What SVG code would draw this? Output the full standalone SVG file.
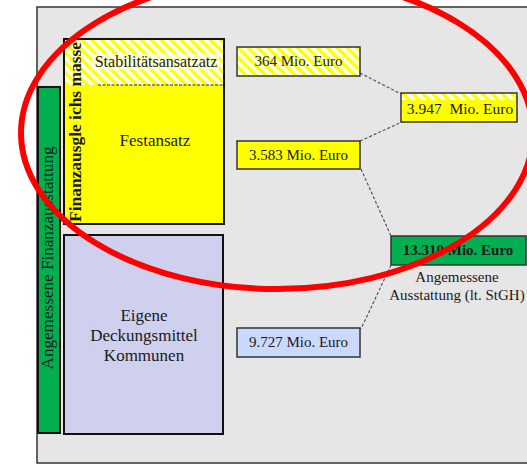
<svg xmlns="http://www.w3.org/2000/svg" width="527" height="464" viewBox="0 0 527 464">
<defs>
<pattern id="hatch" patternUnits="userSpaceOnUse" width="7" height="7" patternTransform="rotate(-45)">
<rect width="7" height="7" fill="#FFFFFF"/>
<rect width="3.5" height="7" fill="#FFFF00"/>
</pattern>
<style>
.t{font-family:"Liberation Serif","Times New Roman",serif;fill:#1a1a1a;}
.box{stroke:#333;stroke-width:1.5;}
.big{stroke:#111;stroke-width:2;}
.conn{stroke:#555;stroke-width:1.2;stroke-dasharray:3,2;fill:none;}
</style>
</defs>
<rect x="37" y="7" width="500" height="456" fill="#E6E6E6" stroke="#333" stroke-width="1.5"/>

<g id="bar-angemessene">
<rect x="38" y="87" width="22" height="346" fill="#00B050" class="big"/>
<text class="t" font-size="16" text-anchor="middle" transform="translate(53,258) rotate(-90)" textLength="223" lengthAdjust="spacingAndGlyphs">Angemessene Finanzausstattung</text>
</g>

<g id="finanzausgleichsmasse">
<rect x="64" y="39" width="160" height="185" fill="#FFFF00" class="big"/>
<rect x="65" y="40" width="158" height="45" fill="url(#hatch)"/>
<rect x="92" y="54" width="127" height="16" fill="#FFFFFF" opacity="0.6"/>
<line x1="98" y1="85" x2="223" y2="85" stroke="#222" stroke-width="1" stroke-dasharray="3,1.5"/>
<text class="t" font-size="16" font-weight="bold" text-anchor="middle" transform="translate(81,132) rotate(-90)" textLength="180" lengthAdjust="spacingAndGlyphs">Finanzausgle ichs masse</text>
<text class="t" font-size="16" x="156" y="67" text-anchor="middle">Stabilitätsansatzatz</text>
<text class="t" font-size="17" x="155" y="146" text-anchor="middle">Festansatz</text>
</g>

<g id="eigene">
<rect x="64" y="235" width="159" height="199" fill="#CFCFEE" class="big"/>
<text class="t" font-size="17" text-anchor="middle"><tspan x="144" y="321">Eigene</tspan><tspan x="144" y="341">Deckungsmittel</tspan><tspan x="144" y="361">Kommunen</tspan></text>
</g>

<g id="connectors">
<line class="conn" x1="360" y1="73" x2="401" y2="94"/>
<line class="conn" x1="360" y1="141" x2="402" y2="122"/>
<line class="conn" x1="361" y1="169" x2="391" y2="236"/>
<line class="conn" x1="391" y1="265" x2="361" y2="329"/>
</g>

<g id="n364">
<rect x="237" y="47" width="123" height="29" fill="url(#hatch)" class="box"/>
<text class="t" font-size="15" x="298.5" y="66" text-anchor="middle">364 Mio. Euro</text>
</g>

<g id="n3583">
<rect x="237" y="141" width="123" height="28" fill="#FFFF00" class="box"/>
<text class="t" font-size="15" x="298.5" y="160" text-anchor="middle">3.583 Mio. Euro</text>
</g>

<g id="n3947">
<rect x="401" y="93" width="116" height="29" fill="url(#hatch)" class="box"/>
<rect x="402" y="100" width="114" height="21" fill="#FFFF00"/>
<text class="t" font-size="15.5" x="460" y="114" text-anchor="middle" xml:space="preserve">3.947  Mio. Euro</text>
</g>

<g id="n13310">
<rect x="391" y="236" width="135" height="29" fill="#00B050" class="box"/>
<text class="t" font-size="15" font-weight="bold" x="458" y="255" text-anchor="middle">13.310 Mio. Euro</text>
<text class="t" font-size="15" text-anchor="middle"><tspan x="457" y="282">Angemessene</tspan><tspan x="457" y="300">Ausstattung (lt. StGH)</tspan></text>
</g>

<g id="n9727">
<rect x="237" y="328" width="123" height="29" fill="#CCD9FF" class="box"/>
<text class="t" font-size="15" x="298.5" y="347" text-anchor="middle">9.727 Mio. Euro</text>
</g>

<ellipse cx="277" cy="133" rx="256" ry="156" fill="none" stroke="#FF0000" stroke-width="6"/>
</svg>
